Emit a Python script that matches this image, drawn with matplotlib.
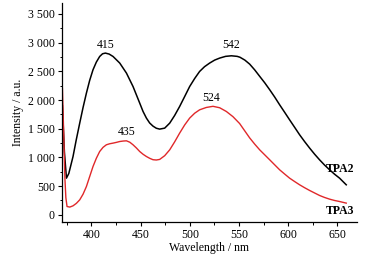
import matplotlib
matplotlib.use("Agg")
import matplotlib.pyplot as plt
from matplotlib.ticker import MultipleLocator, FuncFormatter

wl_tpa2 = [370.5, 372.5, 374.6, 377, 381.3, 384.5, 388.1, 391.5, 394.9, 398.2, 401.6, 405, 408.4,
           411.3, 414.2, 418, 422, 428.8, 435.6, 442.3, 449.1, 452.5, 455.9, 459.2, 462.6, 466, 469.4, 474.5,
           479.6, 484.6, 489.7, 494.8, 499.9, 505, 510, 515, 520.2, 525.3, 530.4, 536.4, 542.3,
           548.2, 551, 556, 560.9, 566, 571.1, 576.2, 581.3, 586.4, 591.4, 596.5, 601.5, 606.6,
           611.7, 616.8, 621.9, 627, 632, 637, 642.2, 647.2, 652.3, 659.1]
int_tpa2 = [1900, 1100, 639, 720, 1016, 1300, 1597, 1870, 2120, 2340, 2526, 2660, 2758,
            2805, 2817, 2800, 2758, 2643, 2469, 2235, 1946, 1800, 1685, 1600, 1545, 1508, 1493, 1510,
            1597, 1730, 1887, 2060, 2235, 2375, 2497, 2580, 2643, 2695, 2730, 2760, 2770,
            2760, 2745, 2695, 2625, 2525, 2412, 2300, 2178, 2050, 1916, 1785, 1655, 1525,
            1394, 1275, 1162, 1055, 958, 868, 784, 708, 639, 523]

wl_tpa3 = [370.5, 372, 373, 374, 375.2, 378, 381.3, 384.7, 388.1, 391.5, 394.9, 398.2, 401.6,
           405, 408.4, 411.8, 415.2, 418.6, 422, 425.4, 428.8, 432.2, 435.6, 439, 442.3, 445.7,
           449.1, 452.5, 455.9, 459.2, 462.6, 466, 469.4, 474.5, 479.6, 484.6, 489.7, 494.8,
           499.9, 505, 510, 516.8, 523.6, 530.4, 537.2, 543.9, 550.7, 555.8, 560.9, 566, 571.1,
           576.2, 581.3, 586.4, 591.4, 596.5, 601.5, 606.6, 611.7, 616.8, 621.9, 627, 632, 637,
           642.2, 647.2, 652.3, 659.1]
int_tpa3 = [2200, 1300, 650, 300, 145, 135, 157, 200, 261, 360, 493, 665, 841,
            985, 1103, 1175, 1220, 1238, 1249, 1262, 1277, 1285, 1289, 1265, 1220, 1165,
            1103, 1055, 1016, 985, 960, 955, 965, 1030, 1132, 1270, 1423, 1565,
            1685, 1770, 1829, 1870, 1890, 1865, 1800, 1710, 1590, 1465, 1340, 1232, 1132,
            1045, 958, 870, 784, 710, 639, 580, 523, 472, 424, 380, 337, 303,
            273, 250, 232, 204]

peak_labels = ["415", "542", "435", "524"]
peak_x = [414.5, 542.3, 435.6, 522]
peak_y = [2960, 2960, 1435, 2030]

series_names = ["TPA2", "TPA3"]
name_y = [800, 70]

plt.rcParams['font.family'] = ['Liberation Serif', 'DejaVu Serif']

fig = plt.figure(figsize=(3.73, 2.58), dpi=100)
ax = fig.add_axes([0.166, 0.1395, 0.791, 0.849])

ax.plot(wl_tpa2, int_tpa2, color='black', lw=1.1)
ax.plot(wl_tpa3, int_tpa3, color='#e0282a', lw=1.0)

for t, x, y in zip(peak_labels, peak_x, peak_y):
    ax.text(x, y, t, ha='center', va='center', fontsize=8.5)

for t, y in zip(series_names, name_y):
    ax.text(667, y, t, ha='right', va='center', fontsize=8.5, fontweight='bold')

ax.set_xlim(370, 670)
ax.set_ylim(-125, 3690)
ax.xaxis.set_major_locator(MultipleLocator(50))
ax.xaxis.set_minor_locator(MultipleLocator(25))
ax.yaxis.set_major_locator(MultipleLocator(500))
ax.yaxis.set_minor_locator(MultipleLocator(250))
ax.set_xticks(range(400, 651, 50))

def fmt(v, pos):
    v = int(round(v))
    return f"{v:,}".replace(",", " ")
ax.yaxis.set_major_formatter(FuncFormatter(fmt))

ax.spines['top'].set_visible(False)
ax.spines['right'].set_visible(False)
for s in ['left', 'bottom']:
    ax.spines[s].set_linewidth(0.9)
ax.tick_params(which='major', direction='out', length=3, width=0.8, labelsize=8.5, pad=2)
ax.tick_params(which='minor', direction='out', length=1.8, width=0.7)

ax.set_xlabel('Wavelength / nm', fontsize=8.5, labelpad=1)
ax.set_ylabel('Intensity / a.u.', fontsize=8.5, labelpad=3)

fig.savefig('out.png', dpi=100)
